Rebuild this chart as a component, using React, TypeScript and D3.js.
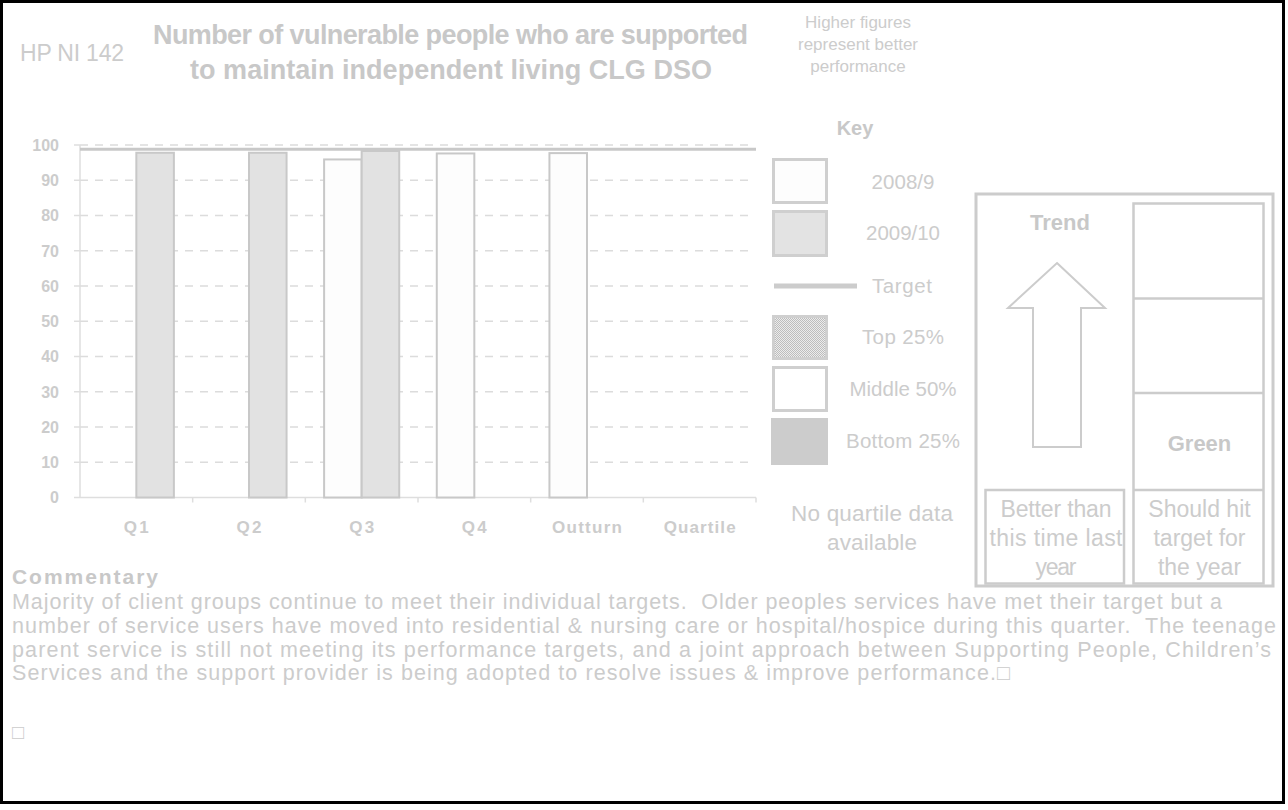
import * as d3 from 'd3';

// chart data
const categories = ['Q1', 'Q2', 'Q3', 'Q4', 'Outturn', 'Quartile'];
const seriesNames = ['2008/9', '2009/10'];
const values2008: (number | null)[] = [null, null, 95.9, 97.6, 97.7, null];
const values2009: (number | null)[] = [97.8, 97.8, 98.3, null, null, null];
const targetValue = 98.8;
const yTicks = [0, 10, 20, 30, 40, 50, 60, 70, 80, 90, 100];

const legendItems = ['2008/9', '2009/10', 'Target', 'Top 25%', 'Middle 50%', 'Bottom 25%'];

const commentary = [
    'Majority of client groups continue to meet their individual targets.  Older peoples services have met their target but a',
    'number of service users have moved into residential & nursing care or hospital/hospice during this quarter.  The teenage',
    'parent service is still not meeting its performance targets, and a joint approach between Supporting People, Children\u2019s',
    'Services and the support provider is being adopted to resolve issues & improve performance.\u25A1',
];

const FONT = "'Liberation Sans', Arial, sans-serif";
const TEXT = '#cccccc';
const LINE = '#c8c8c8';

const App = () => {
    const width = 1288;
    const height = 810;

    // plot area
    const x0 = 80;
    const x1 = 756;
    const x = d3.scaleBand<string>().domain(categories).range([x0, x1]).padding(0);
    const xs = d3.scaleBand<string>().domain(seriesNames).range([0, x.bandwidth()]).paddingInner(0).paddingOuter(0.5);
    const y = d3.scaleLinear().domain([0, 100]).range([497.5, 145]);

    const bars = categories.flatMap((c, i) => [
        { cat: c, s: '2008/9', v: values2008[i] },
        { cat: c, s: '2009/10', v: values2009[i] },
    ]).filter(d => d.v !== null) as { cat: string; s: string; v: number }[];

    const legendRows = [182, 233, 286, 337, 389, 441];
    const legendLens = [63, 74, 60, 82, 107, 114];
    const catLens: Record<string, number> = { Q1: 25, Q2: 25, Q3: 25, Q4: 25, Outturn: 70, Quartile: 72 };

    return (
        <svg width={width} height={height} style={{ position: 'absolute', left: 0, top: 0, background: '#fff' }} fontFamily={FONT}>
            <defs>
                <pattern id="dots" width={2} height={2} patternUnits="userSpaceOnUse">
                    <rect width={2} height={2} fill="#ececec" />
                    <rect width={1} height={1} fill="#bdbdbd" />
                    <rect x={1} y={1} width={1} height={1} fill="#bdbdbd" />
                </pattern>
            </defs>

            {/* header */}
            <text x={20} y={61} fontSize={23} fill={TEXT} textLength={104}>HP NI 142</text>
            <text x={153} y={44} fontSize={27} fontWeight="bold" fill={LINE} textLength={595}>
                Number of vulnerable people who are supported
            </text>
            <text x={190} y={79} fontSize={27} fontWeight="bold" fill={LINE} textLength={522}>
                to maintain independent living CLG DSO
            </text>
            {['Higher figures', 'represent better', 'performance'].map((t, i) => (
                <text key={t} x={858} y={28 + i * 22} fontSize={17} fill={TEXT} textAnchor="middle">{t}</text>
            ))}

            {/* gridlines */}
            {yTicks.filter(t => t > 0).map(t => (
                <line key={t} x1={x0} x2={750} y1={y(t)} y2={y(t)} stroke="#dcdcdc" strokeWidth={1.5} strokeDasharray="8,7" />
            ))}

            {/* axes */}
            <line x1={x0} x2={x0} y1={y(100)} y2={y(0)} stroke="#dedede" strokeWidth={1.5} />
            <line x1={x0} x2={x1} y1={y(0)} y2={y(0)} stroke="#dedede" strokeWidth={1.5} />
            {yTicks.map(t => (
                <g key={t}>
                    <line x1={x0 - 6} x2={x0} y1={y(t)} y2={y(t)} stroke="#dedede" strokeWidth={1.5} />
                    <text x={59} y={y(t)} dy="0.36em" textAnchor="end" fontSize={16} fontWeight="bold" fill={TEXT}>{t}</text>
                </g>
            ))}
            {categories.map(c => (
                <line key={c} x1={(x(c) as number) + x.bandwidth()} x2={(x(c) as number) + x.bandwidth()} y1={y(0)} y2={y(0) + 5} stroke="#dedede" strokeWidth={1.5} />
            ))}
            {categories.map(c => (
                <text key={c} x={(x(c) as number) + x.bandwidth() / 2} y={533} textAnchor="middle" fontSize={17} fontWeight="bold" fill={TEXT} textLength={catLens[c]}>
                    {c}
                </text>
            ))}

            {/* bars */}
            {bars.map(d => (
                <rect key={d.cat + d.s}
                    x={(x(d.cat) as number) + (xs(d.s) as number)}
                    y={y(d.v)}
                    width={xs.bandwidth()}
                    height={y(0) - y(d.v)}
                    fill={d.s === '2009/10' ? '#e2e2e2' : '#fdfdfd'}
                    stroke={LINE}
                    strokeWidth={2} />
            ))}

            {/* target */}
            <line x1={x0} x2={x1} y1={y(targetValue)} y2={y(targetValue)} stroke={LINE} strokeWidth={3} />

            {/* key */}
            <text x={855} y={135} textAnchor="middle" fontSize={20} fontWeight="bold" fill={LINE}>Key</text>
            <rect x={773.5} y={159.5} width={53} height={43} fill="#fdfdfd" stroke="#cfcfcf" strokeWidth={3} />
            <rect x={773.5} y={211.5} width={53} height={44} fill="#e3e3e3" stroke="#cfcfcf" strokeWidth={3} />
            <line x1={774} x2={857} y1={286} y2={286} stroke="#cccccc" strokeWidth={5} />
            <rect x={773.5} y={316.5} width={53} height={42} fill="url(#dots)" stroke="#cfcfcf" strokeWidth={3} />
            <rect x={773.5} y={367.5} width={53} height={43} fill="#fff" stroke="#cfcfcf" strokeWidth={3} />
            <rect x={771} y={418} width={57} height={47} fill="#cccccc" />
            {legendItems.map((t, i) => (
                i === 2
                    ? <text key={t} x={872} y={legendRows[i]} dy="0.36em" fontSize={20.5} fill={TEXT} textLength={legendLens[i]}>{t}</text>
                    : <text key={t} x={903} y={legendRows[i]} dy="0.36em" textAnchor="middle" fontSize={20.5} fill={TEXT} textLength={legendLens[i]}>{t}</text>
            ))}
            <text x={872} y={513} dy="0.36em" textAnchor="middle" fontSize={22.5} fill={TEXT} textLength={162}>No quartile data</text>
            <text x={872} y={542} dy="0.36em" textAnchor="middle" fontSize={22.5} fill={TEXT} textLength={90}>available</text>

            {/* trend box */}
            <rect x={976} y={194} width={297} height={392} fill="#fff" stroke="#cccccc" strokeWidth={3} />
            <rect x={1133.5} y={203.5} width={130} height={380} fill="#fff" stroke="#cccccc" strokeWidth={2.5} />
            <line x1={1133.5} x2={1263.5} y1={298.5} y2={298.5} stroke="#cccccc" strokeWidth={2.5} />
            <line x1={1133.5} x2={1263.5} y1={393} y2={393} stroke="#cccccc" strokeWidth={2.5} />
            <line x1={1133.5} x2={1263.5} y1={490} y2={490} stroke="#cccccc" strokeWidth={2.5} />
            <rect x={985.5} y={490} width={138.5} height={93.5} fill="#fff" stroke="#cccccc" strokeWidth={2.5} />
            <text x={1060} y={222} dy="0.36em" textAnchor="middle" fontSize={22} fontWeight="bold" fill={LINE}>Trend</text>
            <path d="M1057,263 L1105,308 L1081,308 L1081,447 L1033,447 L1033,308 L1008,308 Z" fill="#fff" stroke="#cccccc" strokeWidth={2} />
            <text x={1199.5} y={443} dy="0.36em" textAnchor="middle" fontSize={22} fontWeight="bold" fill={LINE}>Green</text>
            {['Better than', 'this time last', 'year'].map((t, i) => (
                <text key={t} x={1056} y={509 + i * 29} dy="0.36em" textAnchor="middle" fontSize={23} fill={TEXT}
                    textLength={[111, 133, 41][i]}>{t}</text>
            ))}
            {['Should hit', 'target for', 'the year'].map((t, i) => (
                <text key={t} x={1199.5} y={509 + i * 29} dy="0.36em" textAnchor="middle" fontSize={23} fill={TEXT}>{t}</text>
            ))}

            {/* commentary */}
            <text x={12} y={584} fontSize={21} fontWeight="bold" fill={LINE} textLength={146}>Commentary</text>
            {commentary.map((t, i) => (
                <text key={i} x={12} y={609 + i * 23.8} fontSize={21.5} fill={TEXT} xmlSpace="preserve" style={{ whiteSpace: 'pre' }}
                    textLength={[1210, 1264, 1259, 998][i]}>{t}</text>
            ))}
            <text x={12} y={739} fontSize={20} fill={TEXT}>{'\u25A1'}</text>

            {/* outer frame */}
            <rect x={1.5} y={1.5} width={1282} height={801} fill="none" stroke="#000" strokeWidth={3} />
        </svg>
    );
};

export default App;
